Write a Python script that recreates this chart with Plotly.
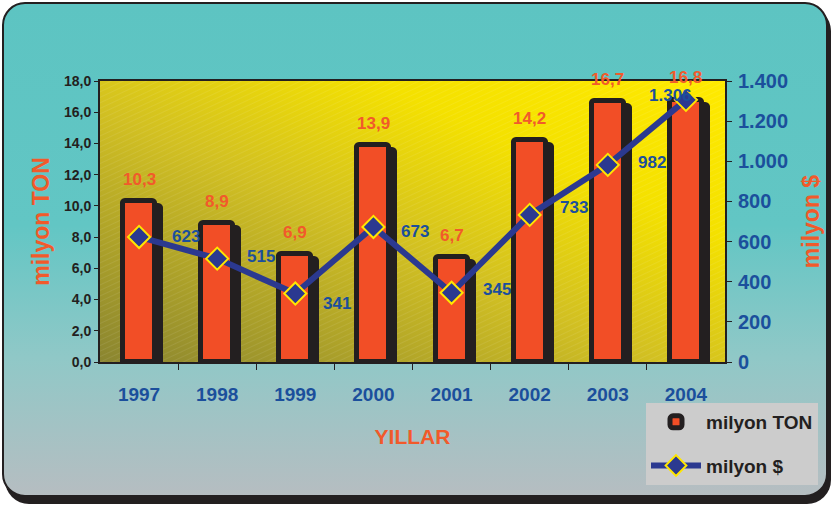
import base64
import plotly.graph_objects as go

# ---- data ----
years = ["1997", "1998", "1999", "2000", "2001", "2002", "2003", "2004"]
milyon_ton = [10.3, 8.9, 6.9, 13.9, 6.7, 14.2, 16.7, 16.8]
milyon_usd = [623, 515, 341, 673, 345, 733, 982, 1306]
ton_ticks = [0, 2, 4, 6, 8, 10, 12, 14, 16, 18]
usd_ticks = [0, 200, 400, 600, 800, 1000, 1200, 1400]

# label offsets for the $ series (px, style only)
usd_dx = [47, 44, 42, 42, 45, 44, 44, -15]
usd_dy = [0, 2, -10, -5, 3, 7, 2, 4]

FONT = "Liberation Sans, Arial, sans-serif"
ORANGE = "#F24E26"
ORANGE_TXT = "#F15A2B"
BLACK = "#231F20"
NAVY = "#2B3990"
BLUE_TXT = "#1B4F9C"

W, H = 832, 506
L, R, T, B = 100, 107, 81, 144
PW, PH = W - L - R, H - T - B

svg = f'''<svg xmlns="http://www.w3.org/2000/svg" width="{W}" height="{H}" viewBox="0 0 {W} {H}">
<defs>
<linearGradient id="frame" x1="0" y1="0" x2="0" y2="1">
<stop offset="0" stop-color="#5DC4C2"/>
<stop offset="0.45" stop-color="#62C6C4"/>
<stop offset="0.72" stop-color="#90C8C7"/>
<stop offset="1" stop-color="#B6BDC1"/>
</linearGradient>
<linearGradient id="plot" x1="0" y1="1" x2="1" y2="0">
<stop offset="0" stop-color="#8A8530"/>
<stop offset="0.45" stop-color="#D2C022"/>
<stop offset="0.72" stop-color="#F4E100"/>
<stop offset="1" stop-color="#FFEA00"/>
</linearGradient>
<pattern id="hatch" width="5" height="5" patternUnits="userSpaceOnUse" patternTransform="rotate(-25)">
<line x1="0" y1="0" x2="5" y2="0" stroke="#ffffff" stroke-opacity="0.13" stroke-width="1.2"/>
</pattern>
</defs>
<rect x="5" y="7" width="826" height="497" rx="24" ry="24" fill="{BLACK}"/>
<rect x="3" y="3" width="824" height="493" rx="22" ry="22" fill="url(#frame)" stroke="{BLACK}" stroke-width="2"/>
<rect x="{L}" y="{T}" width="{PW}" height="{PH}" fill="url(#plot)"/>
<rect x="{L}" y="{T}" width="{PW}" height="{PH}" fill="url(#hatch)"/>
</svg>'''
bg_src = "data:image/svg+xml;base64," + base64.b64encode(svg.encode()).decode()

xpos = list(range(len(years)))
px_per_ton = PH / 18.0
shadow_vals = [v - 5 / px_per_ton for v in milyon_ton]
bar_w = 0.41
shift = 6 / (PW / len(years))

fig = go.Figure()
fig.add_trace(go.Bar(
    x=xpos, y=shadow_vals, width=bar_w, offset=-bar_w / 2 + shift,
    marker=dict(color=BLACK, line=dict(color=BLACK, width=5), cornerradius=3),
    showlegend=False, hoverinfo="skip"))
fig.add_trace(go.Bar(
    x=xpos, y=milyon_ton, width=bar_w, offset=-bar_w / 2, name="milyon TON",
    legendgroup="a",
    marker=dict(color=ORANGE, line=dict(color=BLACK, width=5), cornerradius=3)))
fig.add_trace(go.Scatter(
    x=xpos, y=milyon_usd, yaxis="y2", mode="lines+markers", name="milyon $",
    legendgroup="b",
    line=dict(color=NAVY, width=6),
    marker=dict(symbol="diamond", size=17, color=NAVY, line=dict(color="#FFE600", width=2))))

ann = []
for xi, v in zip(xpos, milyon_ton):
    ann.append(dict(x=xi, y=v, xref="x", yref="y", text=f"{v:.1f}".replace(".", ","),
                    showarrow=False, yshift=22,
                    font=dict(family=FONT, size=17, color=ORANGE_TXT, weight="bold")))
for xi, v, dx, dy in zip(xpos, milyon_usd, usd_dx, usd_dy):
    ann.append(dict(x=xi, y=v, xref="x", yref="y2", text=f"{v:,}".replace(",", "."),
                    showarrow=False, xshift=dx, yshift=dy,
                    font=dict(family=FONT, size=17, color=BLUE_TXT, weight="bold")))

fig.update_layout(
    width=W, height=H, margin=dict(l=L, r=R, t=T, b=B, autoexpand=False),
    paper_bgcolor="white", plot_bgcolor="rgba(0,0,0,0)",
    barmode="overlay", bargap=0,
    images=[dict(source=bg_src, xref="paper", yref="paper", x=-L / PW, y=1 + T / PH,
                 sizex=W / PW, sizey=H / PH, xanchor="left", yanchor="top",
                 sizing="stretch", layer="below")],
    xaxis=dict(range=[-0.5, len(years) - 0.5], tickvals=xpos, ticktext=years,
               showline=True, linecolor=BLACK, linewidth=2, mirror=True,
               ticks="", tickangle=0, ticklabelstandoff=14, showgrid=False,
               zeroline=False, automargin=False,
               minor=dict(tickvals=[i + 0.5 for i in xpos[:-1]], ticks="outside",
                          ticklen=6, tickcolor=BLACK, showgrid=False),
               tickfont=dict(family=FONT, size=19, color=BLUE_TXT, weight="bold"),
               title=dict(text="YILLAR", standoff=26,
                          font=dict(family=FONT, size=21, color=ORANGE_TXT, weight="bold"))),
    yaxis=dict(range=[0, 18], tickvals=ton_ticks,
               ticktext=[f"{t:.1f}".replace(".", ",") for t in ton_ticks],
               showline=True, linecolor=BLACK, linewidth=2, ticks="outside", ticklen=4,
               tickcolor=BLACK, showgrid=False, zeroline=False, automargin=False,
               tickfont=dict(family=FONT, size=14, color=BLACK, weight="bold"),
               title=dict(text="milyon TON", standoff=8,
                          font=dict(family=FONT, size=23, color=ORANGE_TXT, weight="bold"))),
    yaxis2=dict(range=[0, 1400], overlaying="y", side="right", tickvals=usd_ticks,
                ticktext=[f"{t:,}".replace(",", ".") for t in usd_ticks],
                showline=True, linecolor=BLACK, linewidth=2, ticks="outside", ticklen=5,
                tickcolor=BLACK, showgrid=False, zeroline=False, automargin=False,
                ticklabelstandoff=2,
                tickfont=dict(family=FONT, size=20, color=BLUE_TXT, weight="bold"),
                title=dict(text="milyon $", standoff=16,
                           font=dict(family=FONT, size=23, color=ORANGE_TXT, weight="bold"))),
    legend=dict(x=(646 - L) / PW, y=(T + PH - 403) / PH, xanchor="left", yanchor="top",
                bgcolor="#CCCCCC", tracegroupgap=16, itemwidth=50,
                font=dict(family=FONT, size=19, color=BLACK, weight="bold")),
    annotations=ann,
)

fig.write_html("out.html", config={"displayModeBar": False},
               post_script="document.body.style.margin='0';document.body.style.overflow='hidden';")
